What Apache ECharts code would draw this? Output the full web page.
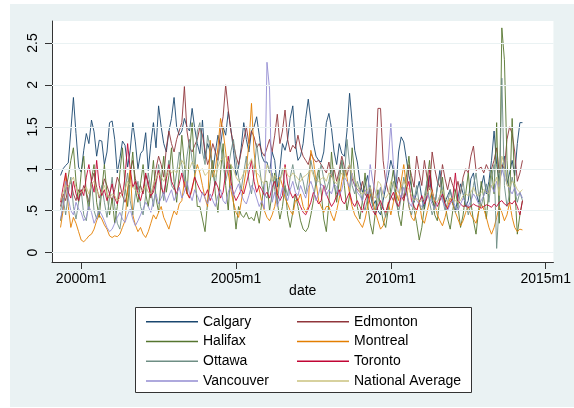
<!DOCTYPE html>
<html>
<head>
<meta charset="utf-8">
<script src="https://cdn.jsdelivr.net/npm/echarts@6/dist/echarts.min.js"></script>
<style>
  html, body { margin: 0; padding: 0; background: #ffffff; }
  #chart { width: 574px; height: 408px; }
</style>
</head>
<body>
<div id="chart"></div>
<script>
// Monthly series, 1999m5 .. 2014m4 (months counted from 2000m1 = 0)
const firstMonth = -8;

const cityNames = ['Calgary', 'Edmonton', 'Halifax', 'Montreal', 'Ottawa', 'Toronto', 'Vancouver', 'National Average'];

const calgary = [
  0.92, 1.00, 1.04, 1.07, 1.45, 1.85, 1.42, 1.02,
  0.96, 1.22, 1.42, 1.30, 1.58, 1.44, 1.15, 1.34, 1.33, 1.05, 1.20, 1.55,
  1.57, 1.35, 0.95, 1.12, 1.33, 1.28, 1.02, 1.22, 1.55, 1.32, 1.00, 1.18,
  1.22, 1.43, 0.98, 1.30, 1.55, 1.25, 1.75, 1.50, 1.30, 1.20, 1.45, 1.60,
  1.85, 1.50, 1.40, 1.45, 1.60, 1.50, 1.45, 1.72, 1.48, 1.30, 1.18, 1.58,
  1.12, 1.30, 1.20, 0.95, 1.20, 1.40, 1.28, 1.50, 1.40, 1.68, 1.48, 1.22,
  0.92, 1.02, 1.25, 1.55, 1.35, 1.20, 1.45, 1.50, 1.62, 1.40, 1.15, 1.08,
  1.08, 0.95, 1.20, 1.10, 0.78, 1.00, 1.30, 1.22, 1.35, 1.60, 1.75, 1.30,
  1.10, 1.15, 1.30, 1.60, 1.83, 1.58, 1.30, 1.15, 1.10, 1.08, 1.20, 1.55,
  1.66, 1.48, 1.20, 1.05, 1.30, 1.18, 1.15, 1.45, 1.90, 1.55, 1.22, 1.08,
  0.85, 0.72, 0.80, 0.92, 0.70, 0.55, 0.62, 0.50, 0.45, 0.62, 0.78, 0.92,
  1.10, 0.98, 0.78, 1.20, 1.38, 1.32, 1.12, 0.92, 0.78, 0.60, 0.72, 0.85,
  0.65, 0.52, 0.70, 0.92, 0.62, 0.55, 0.78, 0.98, 0.72, 0.60, 0.68, 0.75,
  0.58, 0.50, 0.65, 0.82, 0.70, 0.55, 0.62, 0.88, 0.95, 0.72, 0.60, 0.78,
  0.92, 0.70, 0.85, 1.10, 1.45, 1.05, 0.85, 0.98, 1.15, 0.82, 0.95, 1.10,
  0.92, 1.30, 1.55, 1.55
];

const edmonton = [
  0.55, 0.70, 0.62, 0.78, 0.85, 0.70, 0.62, 0.75,
  0.68, 0.80, 0.72, 0.60, 0.85, 0.95, 0.78, 0.65, 0.72, 0.88, 0.80, 0.70,
  0.62, 0.75, 0.90, 0.82, 0.68, 0.60, 0.72, 0.95, 1.10, 0.88, 0.75, 0.80,
  0.70, 0.92, 0.85, 0.65, 0.78, 1.00, 1.15, 1.05, 0.90, 1.25, 1.45, 1.30,
  1.20, 1.35, 1.45, 1.55, 1.98, 1.45, 1.25, 1.20, 1.28, 1.35, 1.50, 1.40,
  1.22, 1.05, 1.15, 1.30, 1.20, 1.10, 1.45, 1.62, 2.00, 1.70, 1.45, 1.30,
  1.15, 1.05, 1.20, 1.35, 1.50, 1.30, 1.45, 1.38, 1.25, 1.30, 1.20, 1.15,
  1.25, 1.35, 1.20, 1.40, 1.65, 1.30, 1.45, 1.70, 1.35, 1.20, 1.28, 1.24,
  1.40, 1.25, 1.15, 1.10, 1.05, 1.18, 1.12, 1.08, 1.10, 1.05, 1.00, 0.95,
  1.08, 0.90, 1.00, 0.85, 0.98, 1.15, 1.02, 0.92, 1.05, 0.88, 0.80, 0.75,
  0.72, 0.85, 0.70, 0.65, 0.78, 0.62, 1.00, 1.72, 1.72, 1.10, 0.85, 0.72,
  0.68, 0.62, 0.75, 0.90, 0.80, 0.65, 0.72, 1.05, 0.92, 0.78, 1.15, 0.95,
  0.80, 1.10, 0.90, 0.75, 1.20, 1.00, 0.85, 0.78, 1.05, 0.88, 0.75, 0.90,
  0.80, 0.72, 0.85, 0.70, 0.90, 1.00, 0.95, 1.15, 1.27, 0.98, 1.00, 1.02,
  0.95, 1.05, 0.98, 1.00, 1.10, 1.25, 0.95, 1.05, 1.00, 1.35, 1.50, 1.42,
  1.20, 0.85, 0.95, 1.10
];

const halifax = [
  0.38, 0.55, 0.75, 0.90, 1.10, 1.25, 0.85, 0.60,
  0.95, 1.15, 0.70, 0.50, 0.88, 1.05, 0.60, 0.42, 0.75, 1.05, 0.70, 0.45,
  0.65, 0.35, 0.55, 0.95, 1.25, 0.80, 0.55, 0.90, 1.20, 0.75, 0.60, 0.82,
  1.05, 0.70, 0.55, 0.80, 1.10, 0.65, 0.48, 0.85, 1.15, 0.72, 0.92, 1.25,
  0.85, 0.60, 0.95, 1.40, 1.05, 0.70, 1.20, 1.55, 0.95, 0.55, 0.55, 0.40,
  0.25, 0.60, 0.85, 1.10, 0.70, 0.48, 0.95, 1.30, 0.80, 0.50, 1.05, 0.60,
  0.28, 0.55, 0.45, 0.42, 0.48, 0.40, 0.42, 0.38, 0.50, 0.35, 0.60, 0.85,
  0.85, 0.50, 0.70, 0.95, 0.60, 0.40, 0.55, 0.80, 0.45, 0.30, 0.48, 0.70,
  0.55, 0.38, 0.28, 0.25, 0.30, 0.45, 0.62, 0.85, 1.00, 0.72, 0.40, 0.25,
  0.60, 1.20, 0.85, 0.60, 0.85, 1.10, 0.80, 0.50, 0.68, 1.25, 0.90, 0.55,
  0.40, 0.62, 0.95, 0.58, 0.35, 0.22, 0.48, 0.75, 0.55, 0.38, 0.30, 0.52,
  0.78, 1.00, 0.70, 0.45, 0.32, 0.60, 0.90, 1.15, 0.80, 0.52, 0.35, 0.15,
  0.30, 0.55, 0.85, 1.10, 0.70, 0.45, 0.38, 0.65, 0.90, 0.58, 0.40, 0.28,
  0.50, 0.75, 0.55, 0.30, 0.45, 0.70, 0.95, 0.60, 0.38, 0.22, 0.50, 0.85,
  0.65, 0.40, 0.75, 1.00, 0.70, 1.55, 0.35, 2.68, 2.30, 1.10, 0.60, 1.60,
  0.80, 0.22, 0.45, 0.62
];

const montreal = [
  0.30, 0.50, 0.95, 0.55, 0.30, 0.42, 0.35, 0.25,
  0.15, 0.13, 0.16, 0.20, 0.22, 0.28, 0.38, 0.45, 0.40, 0.33, 0.28, 0.20,
  0.18, 0.20, 0.19, 0.22, 0.30, 0.38, 0.75, 1.00, 0.45, 0.33, 0.25, 0.30,
  0.22, 0.18, 0.25, 0.35, 0.45, 0.40, 0.48, 0.55, 0.42, 0.35, 0.28, 0.40,
  0.50, 0.45, 0.58, 0.62, 0.85, 0.70, 0.65, 0.75, 0.92, 1.05, 0.95, 0.80,
  0.65, 0.55, 1.34, 0.90, 1.00, 1.25, 1.60, 1.45, 1.20, 0.95, 0.75, 0.60,
  0.48, 0.42, 0.60, 0.80, 1.00, 1.30, 1.78, 1.20, 0.90, 0.75, 0.60, 0.50,
  0.42, 0.38, 0.45, 0.55, 0.72, 0.90, 0.80, 0.65, 0.58, 0.50, 0.45, 0.62,
  0.62, 0.70, 0.55, 0.48, 0.55, 1.22, 1.10, 0.85, 0.62, 0.55, 0.48, 0.55,
  0.55, 0.45, 0.38, 0.50, 0.65, 0.85, 1.00, 0.90, 0.70, 0.55, 0.45, 0.40,
  0.35, 0.30, 0.40, 0.55, 0.70, 0.62, 0.48, 0.38, 0.28, 0.32, 0.45, 0.60,
  0.45, 0.60, 0.72, 0.62, 0.85, 1.05, 0.80, 0.55, 0.42, 0.38, 0.50, 0.62,
  0.40, 0.35, 0.48, 0.62, 0.75, 0.60, 0.45, 0.38, 0.32, 0.42, 0.55, 0.65,
  0.58, 0.48, 0.40, 0.32, 0.38, 0.48, 0.55, 0.45, 0.40, 0.35, 0.48, 0.58,
  0.52, 0.42, 0.30, 0.22, 0.30, 0.42, 0.55, 0.48, 0.38, 0.45, 0.60, 0.42,
  0.30, 0.25, 0.28, 0.27
];

const ottawa = [
  0.50, 0.65, 0.45, 0.70, 0.90, 0.55, 0.40, 0.60,
  0.75, 0.45, 0.38, 0.62, 0.85, 0.50, 0.40, 0.55, 0.80, 0.60, 0.42, 0.65,
  0.90, 0.55, 0.35, 0.28, 0.50, 0.75, 0.95, 0.62, 0.45, 0.70, 0.85, 0.55,
  0.45, 0.68, 0.95, 0.75, 0.55, 0.80, 1.05, 0.85, 0.62, 0.90, 1.10, 0.80,
  0.75, 0.95, 1.20, 1.05, 0.85, 1.15, 1.35, 1.10, 0.95, 1.45, 1.55, 1.20,
  1.05, 1.40, 1.25, 0.95, 0.80, 1.10, 1.30, 1.05, 0.85, 1.00, 1.20, 1.35,
  1.10, 0.90, 0.75, 0.95, 1.15, 0.85, 0.70, 0.95, 1.30, 1.05, 0.80, 0.70,
  0.65, 0.80, 0.95, 0.75, 0.60, 0.85, 1.00, 0.80, 0.68, 0.90, 1.05, 0.85,
  0.75, 0.95, 0.85, 0.70, 0.90, 1.10, 0.95, 0.80, 0.92, 1.05, 0.88, 0.75,
  0.85, 1.00, 0.80, 0.70, 0.95, 1.10, 0.90, 1.35, 1.05, 0.80, 0.70, 0.85,
  0.75, 0.60, 0.50, 0.65, 0.80, 0.55, 0.45, 0.60, 0.78, 0.55, 0.42, 0.55,
  0.70, 0.85, 0.60, 0.48, 0.65, 0.90, 0.75, 0.55, 0.45, 0.62, 0.80, 0.58,
  0.50, 0.68, 0.85, 0.60, 0.45, 0.55, 0.78, 0.92, 0.65, 0.50, 0.60, 0.75,
  0.62, 0.48, 0.55, 0.72, 0.85, 0.60, 0.45, 0.58, 0.80, 0.95, 0.70, 0.55,
  0.68, 0.82, 0.60, 0.90, 1.05, 0.05, 0.60, 2.08, 0.80, 0.55, 0.70, 0.90,
  0.75, 0.60, 0.72, 0.62
];

const toronto = [
  0.60, 0.78, 0.95, 0.72, 0.65, 0.85, 0.70, 0.62,
  0.75, 0.68, 0.90, 1.05, 0.85, 0.72, 1.10, 0.80, 0.68, 0.75, 0.62, 0.70,
  0.82, 0.65, 0.58, 0.72, 0.68, 0.90, 1.30, 1.00, 0.78, 0.85, 0.70, 0.62,
  0.75, 0.95, 0.80, 0.68, 0.72, 0.85, 0.98, 0.78, 0.70, 0.88, 1.05, 0.85,
  0.78, 0.70, 0.82, 0.95, 0.80, 0.72, 0.65, 0.78, 0.90, 0.82, 0.75, 0.70,
  0.68, 0.75, 0.62, 0.70, 0.85, 0.78, 0.65, 0.72, 0.95, 1.15, 0.85, 0.70,
  0.62, 0.68, 0.75, 0.70, 0.82, 0.95, 1.10, 0.85, 0.72, 0.80, 0.75, 0.68,
  0.72, 0.65, 0.78, 0.85, 0.70, 0.62, 0.68, 1.05, 0.82, 0.72, 0.65, 0.70,
  0.62, 0.55, 0.48, 0.45, 0.52, 0.60, 0.72, 0.65, 0.58, 0.62, 0.80, 0.70,
  0.62, 0.55, 0.60, 0.68, 0.75, 0.62, 0.58, 0.65, 0.72, 0.60, 0.55, 0.62,
  0.55, 0.48, 0.62, 0.70, 0.58, 0.50, 0.45, 0.55, 0.62, 0.52, 0.48, 0.58,
  0.65, 0.72, 0.60, 0.55, 0.68, 0.62, 0.75, 0.85, 0.62, 0.55, 0.50, 0.60,
  0.68, 0.58, 0.65, 1.00, 0.72, 0.62, 0.55, 0.62, 0.70, 0.58, 0.52, 0.60,
  0.65, 0.95, 0.62, 0.58, 0.55, 0.56, 0.54, 0.55, 0.58, 0.56, 0.55, 0.53,
  0.55, 0.57, 0.56, 0.54, 0.58, 0.55, 0.60, 0.62, 0.58, 0.56, 0.60, 0.58,
  0.62, 0.55, 0.45, 0.62
];

const vancouver = [
  0.40, 0.55, 0.85, 0.65, 0.50, 0.45, 0.60, 0.52,
  0.48, 0.38, 0.42, 0.55, 0.48, 0.35, 0.42, 0.50, 0.45, 0.38, 0.30, 0.25,
  0.28, 0.35, 0.42, 0.48, 0.40, 0.36, 0.45, 0.52, 0.40, 0.32, 0.38, 0.45,
  0.52, 0.60, 0.55, 0.48, 0.62, 0.70, 0.58, 0.65, 0.72, 0.60, 0.68, 0.75,
  0.62, 0.70, 0.78, 0.65, 0.72, 0.85, 0.70, 0.62, 0.75, 0.68, 0.60, 0.72,
  0.65, 0.58, 0.70, 0.62, 0.55, 0.68, 0.75, 0.62, 0.58, 0.72, 0.80, 0.68,
  0.75, 0.82, 0.70, 0.62, 0.58, 0.68, 0.80, 0.75, 0.65, 0.55, 0.62, 0.52,
  2.27, 1.95, 0.60, 0.72, 0.55, 0.65, 0.78, 0.70, 0.62, 0.75, 0.85, 0.72,
  0.68, 0.80, 0.72, 0.65, 0.78, 0.85, 0.75, 0.62, 0.70, 0.82, 0.78, 0.68,
  0.75, 0.70, 0.82, 0.78, 0.68, 0.75, 0.90, 0.85, 0.78, 0.95, 0.80, 0.72,
  0.68, 0.62, 0.75, 0.70, 1.05, 0.85, 0.72, 0.65, 0.78, 0.70, 0.85, 1.10,
  1.54, 1.05, 0.85, 0.72, 0.65, 0.78, 0.70, 0.60, 0.55, 0.68, 0.62, 0.58,
  0.55, 0.62, 0.70, 0.65, 0.58, 0.52, 0.60, 0.68, 0.62, 0.55, 0.50, 0.58,
  0.62, 0.55, 0.50, 0.58, 0.65, 0.60, 0.55, 0.62, 0.70, 0.65, 0.58, 0.62,
  0.68, 0.75, 0.70, 0.80, 0.72, 0.85, 0.78, 1.00, 0.90, 0.82, 0.75, 0.70,
  0.78, 0.68, 0.72, 0.65
];

const nationalAverage = [
  0.62, 0.72, 0.80, 0.78, 0.85, 0.90, 0.78, 0.70,
  0.72, 0.75, 0.78, 0.70, 0.82, 0.85, 0.75, 0.68, 0.72, 0.80, 0.70, 0.65,
  0.70, 0.68, 0.62, 0.65, 0.72, 0.75, 0.85, 0.80, 0.78, 0.75, 0.70, 0.72,
  0.75, 0.80, 0.72, 0.70, 0.82, 0.88, 0.95, 0.90, 0.85, 0.92, 1.00, 0.95,
  0.98, 0.95, 1.02, 1.10, 1.05, 0.98, 1.00, 1.08, 1.05, 1.02, 0.98, 1.00,
  0.92, 0.95, 1.00, 0.98, 0.90, 1.02, 1.10, 1.12, 1.15, 1.08, 1.05, 1.00,
  0.90, 0.85, 0.88, 0.95, 1.02, 1.05, 1.12, 1.00, 0.95, 0.92, 0.85, 0.82,
  1.05, 0.98, 0.85, 0.92, 0.88, 0.85, 0.95, 1.02, 0.92, 0.90, 0.95, 0.92,
  0.88, 0.85, 0.90, 0.92, 0.95, 1.00, 0.92, 0.88, 0.85, 0.88, 0.90, 0.85,
  0.95, 0.92, 0.85, 0.82, 0.90, 0.95, 0.88, 1.00, 1.05, 0.92, 0.85, 0.80,
  0.72, 0.70, 0.72, 0.75, 0.78, 0.68, 0.65, 0.85, 0.82, 0.68, 0.65, 0.70,
  0.85, 0.82, 0.75, 0.72, 0.78, 0.85, 0.80, 0.75, 0.68, 0.62, 0.65, 0.60,
  0.62, 0.65, 0.70, 0.78, 0.72, 0.62, 0.60, 0.68, 0.75, 0.65, 0.60, 0.65,
  0.65, 0.62, 0.60, 0.62, 0.68, 0.70, 0.68, 0.72, 0.78, 0.70, 0.68, 0.72,
  0.75, 0.72, 0.70, 0.80, 0.82, 0.90, 0.68, 1.15, 1.05, 0.80, 0.78, 0.85,
  0.82, 0.75, 0.72, 0.75
];

const xTickMonths = [0, 60, 120, 180];
const yTickValues = [0, 0.5, 1, 1.5, 2, 2.5];

const seriesValues = [calgary, edmonton, halifax, montreal, ottawa, toronto, vancouver, nationalAverage];
const seriesColors = ['#1a476f', '#90353b', '#55752f', '#e37e00', '#6e8e84', '#c10534', '#938dd2', '#cac27e'];

const monthLabel = m => (2000 + Math.floor(m / 12)) + 'm' + (m % 12 + 1);
const yLabel = v => (v === 0 ? '0' : (v < 1 ? String(v).replace(/^0/, '') : String(v)));

const FONT = '"Liberation Sans", Arial, sans-serif';

const lineSeries = cityNames.map((name, k) => ({
  name: name,
  type: 'line',
  data: seriesValues[k].map((v, i) => [firstMonth + i, v]),
  symbol: 'none',
  z: 3,
  lineStyle: { color: seriesColors[k], width: 1, opacity: 0.9 },
  itemStyle: { color: seriesColors[k] },
  emphasis: { disabled: true }
}));

// Horizontal reference lines at the y ticks
const gridSeries = {
  name: '__grid',
  type: 'line',
  data: [],
  z: 1,
  silent: true,
  markLine: {
    silent: true,
    symbol: 'none',
    label: { show: false },
    lineStyle: { color: '#eaf2f3', width: 1, type: 'solid' },
    data: yTickValues.map(v => ({ yAxis: v }))
  }
};

// Legend keys are thin bars in each series colour
const legendCommon = {
  orient: 'vertical',
  icon: 'rect',
  itemWidth: 52,
  itemHeight: 1.5,
  itemGap: 4,
  selectedMode: false,
  z: 6,
  textStyle: { fontFamily: FONT, fontSize: 14, color: '#000', lineHeight: 15.7 }
};

const chart = echarts.init(document.getElementById('chart'), null, { renderer: 'canvas' });
chart.setOption({
  animation: false,
  backgroundColor: '#ffffff',
  graphic: [
    { type: 'rect', shape: { x: 10, y: 4, width: 564, height: 403 }, style: { fill: '#eaf2f3' }, z: -10, silent: true },
    { type: 'rect', shape: { x: 135.5, y: 307.5, width: 336, height: 85 }, style: { fill: '#ffffff', stroke: '#333333', lineWidth: 1 }, z: 1, silent: true }
  ],
  grid: { left: 52, right: 17, top: 21, bottom: 146, show: true, backgroundColor: '#ffffff', borderWidth: 0 },
  legend: [
    Object.assign({}, legendCommon, { left: 141, top: 309, data: ['Calgary', 'Halifax', 'Ottawa', 'Vancouver'] }),
    Object.assign({}, legendCommon, { left: 292, top: 309, data: ['Edmonton', 'Montreal', 'Toronto', 'National Average'] })
  ],
  xAxis: {
    type: 'value',
    min: -11.3,
    max: 183,
    name: 'date',
    nameLocation: 'middle',
    nameGap: 22,
    nameMoveOverlap: false,
    nameTextStyle: { fontFamily: FONT, fontSize: 14, color: '#000' },
    axisLine: { show: true, onZero: false, lineStyle: { color: '#333', width: 1 } },
    axisTick: { show: true, length: 7, customValues: xTickMonths, lineStyle: { color: '#333' } },
    axisLabel: { customValues: xTickMonths, formatter: monthLabel, fontFamily: FONT, fontSize: 14, color: '#000', margin: 10 },
    splitLine: { show: false }
  },
  yAxis: {
    type: 'value',
    min: -0.112,
    max: 2.762,
    axisLine: { show: true, onZero: false, lineStyle: { color: '#333', width: 1 } },
    axisTick: { show: true, length: 7, customValues: yTickValues, lineStyle: { color: '#333' } },
    axisLabel: { customValues: yTickValues, formatter: yLabel, rotate: 90, fontFamily: FONT, fontSize: 14, color: '#000', margin: 12 },
    splitLine: { show: false }
  },
  series: [gridSeries].concat(lineSeries)
});
</script>
</body>
</html>
